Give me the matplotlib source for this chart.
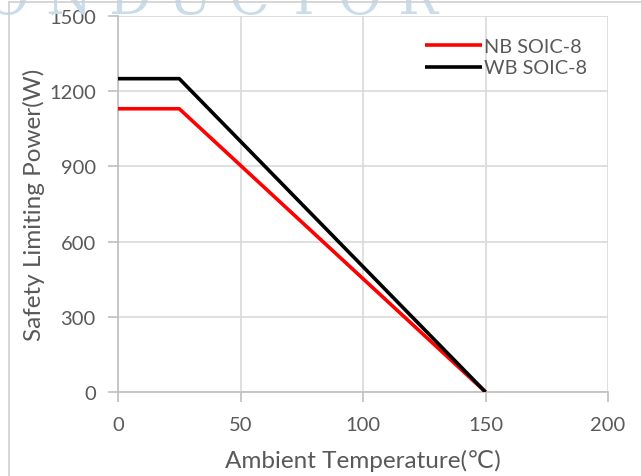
import matplotlib
matplotlib.use("Agg")
import matplotlib.pyplot as plt
from matplotlib.lines import Line2D

plt.rcParams['font.family'] = ['Lato', 'DejaVu Sans']

nb_temp = [0, 25, 150]
nb_power = [1130, 1130, 0]
wb_temp = [0, 25, 150]
wb_power = [1250, 1250, 0]
xticks = [0, 50, 100, 150, 200]
yticks = [0, 300, 600, 900, 1200, 1500]

txt = '#595959'
grid = '#d9d9d9'

fig = plt.figure(figsize=(6.41, 4.77), dpi=100)
ax = fig.add_axes([118/641, 1-393/477, (608-118)/641, (393-17)/477])

# frame lines of the page
fig.add_artist(Line2D([9/641, 9/641], [0, 1-3/477], color='#d0d0d0', lw=1.2))
fig.add_artist(Line2D([9/641, 1], [1-3/477, 1-3/477], color='#d0d0d0', lw=1.2))
# watermark
fig.text(-14/641, 1-14/477, 'O N D U C T O R', family='DejaVu Serif',
         fontsize=38, color='#c9dce9', ha='left', va='baseline', zorder=0)

ax.plot(nb_temp, nb_power, color='#ff0000', lw=2.6, label='NB SOIC-8', zorder=3, solid_capstyle='butt')
ax.plot(wb_temp, wb_power, color='#000000', lw=2.6, label='WB SOIC-8', zorder=4, solid_capstyle='butt')

ax.set_xlim(0, 200)
ax.set_ylim(0, 1500)
ax.set_xticks(xticks)
ax.set_yticks(yticks)
ax.grid(True, color=grid, lw=1.2)
ax.set_axisbelow(True)
for s in ['top', 'right']:
    ax.spines[s].set_visible(False)
for s in ['left', 'bottom']:
    ax.spines[s].set_color('#bfbfbf')
    ax.spines[s].set_linewidth(1.2)
ax.tick_params(axis='both', colors='#bfbfbf', labelcolor=txt, labelsize=14.5, length=7, width=1.2, direction='out')
ax.tick_params(axis='y', pad=9)
ax.tick_params(axis='x', pad=10)
ax.set_xlabel('Ambient Temperature(℃)', fontsize=17.5, color=txt, labelpad=12)
ax.set_ylabel('Safety Limiting Power(W)', fontsize=17.5, color=txt, labelpad=3)

ax.legend(loc='upper right', bbox_to_anchor=(0.99, 0.985), frameon=False, fontsize=14.3,
          labelcolor=txt, handlelength=2.9, handletextpad=0.1, labelspacing=0.25, borderpad=0.3)

fig.savefig('out.png', dpi=100, facecolor='white')
